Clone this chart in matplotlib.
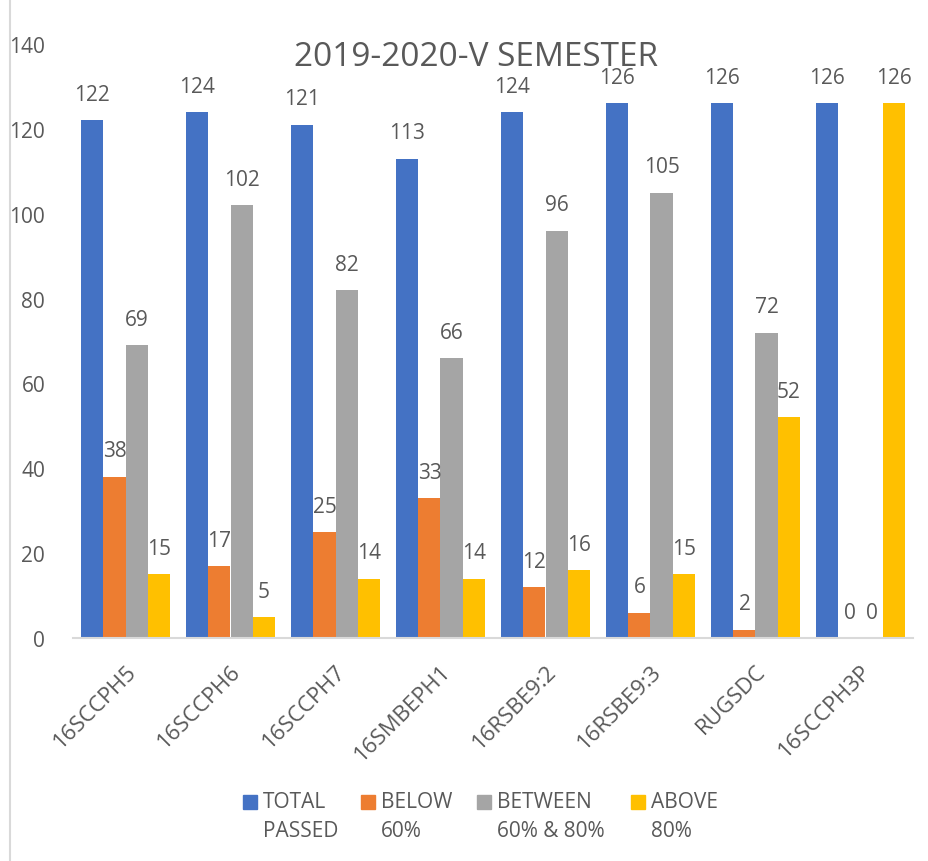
import numpy as np
import matplotlib
matplotlib.use('Agg')
import matplotlib.pyplot as plt
from matplotlib.patches import Rectangle
from matplotlib.lines import Line2D

# Data
categories = ['16SCCPH5', '16SCCPH6', '16SCCPH7', '16SMBEPH1',
              '16RSBE9:2', '16RSBE9:3', 'RUGSDC', '16SCCPH3P']
total_passed = [122, 124, 121, 113, 124, 126, 126, 126]
below_60 = [38, 17, 25, 33, 12, 6, 2, 0]
between_60_80 = [69, 102, 82, 66, 96, 105, 72, 0]
above_80 = [15, 5, 14, 14, 16, 15, 52, 126]

series_names = ['TOTAL\nPASSED', 'BELOW\n60%', 'BETWEEN\n60% & 80%', 'ABOVE\n80%']
colors = ['#4472C4', '#ED7D31', '#A5A5A5', '#FFC000']
yticks = [0, 20, 40, 60, 80, 100, 120, 140]

txt_col = '#595959'
plt.rcParams['font.family'] = ['Open Sans', 'DejaVu Sans']

fig = plt.figure(figsize=(9.29, 8.62), dpi=100)
W, H = 929., 862.
ax = fig.add_axes([73/W, 1-639/H, (913-73)/W, (639-45)/H])

x = np.arange(len(categories))
width = 0.21
data = [total_passed, below_60, between_60_80, above_80]

for i, (vals, col) in enumerate(zip(data, colors)):
    xs = x + (i - 1.5)*width
    bars = ax.bar(xs, vals, width, color=col, zorder=2)
    for b, v in zip(bars, vals):
        ax.annotate(str(v), (b.get_x() + b.get_width()/2., v),
                    xytext=(0, 11), textcoords='offset points',
                    ha='center', va='bottom', fontsize=15, color=txt_col)

ax.set_xlim(-0.5, len(categories) - 0.5)
ax.set_ylim(0, 140)
ax.set_yticks(yticks)
ax.set_yticklabels([str(t) for t in yticks], fontsize=15, color=txt_col)
ax.set_xticks(x)
ax.set_xticklabels(categories, rotation=45, ha='right',
                   rotation_mode='anchor', fontsize=16, color=txt_col)
ax.tick_params(axis='both', length=0)
ax.tick_params(axis='y', pad=20)
ax.tick_params(axis='x', pad=16)
for s in ['top', 'right', 'left']:
    ax.spines[s].set_visible(False)
ax.spines['bottom'].set_color('#D9D9D9')
ax.spines['bottom'].set_linewidth(1.5)

# Title sits inside the plot area like in the Excel chart
fig.text(476/W, 1-57/H, '2019-2020-V SEMESTER', ha='center', va='center',
         fontsize=24, color=txt_col)

# Chart frame on the left
fig.add_artist(Line2D([10/W, 10/W], [0, 1], color='#D9D9D9', lw=1.5))

# Legend, with the patch next to the first line
patch_x = [243, 361, 477, 631]
for px, col, name in zip(patch_x, colors, series_names):
    fig.add_artist(Rectangle((px/W, 1-810/H), 14/W, 14/H, color=col,
                             transform=fig.transFigure))
    for k, ln in enumerate(name.split('\n')):
        fig.text((px+20)/W, 1-(803+29*k)/H, ln, ha='left', va='center',
                 fontsize=15, color=txt_col)

fig.savefig('out.png', dpi=100)
